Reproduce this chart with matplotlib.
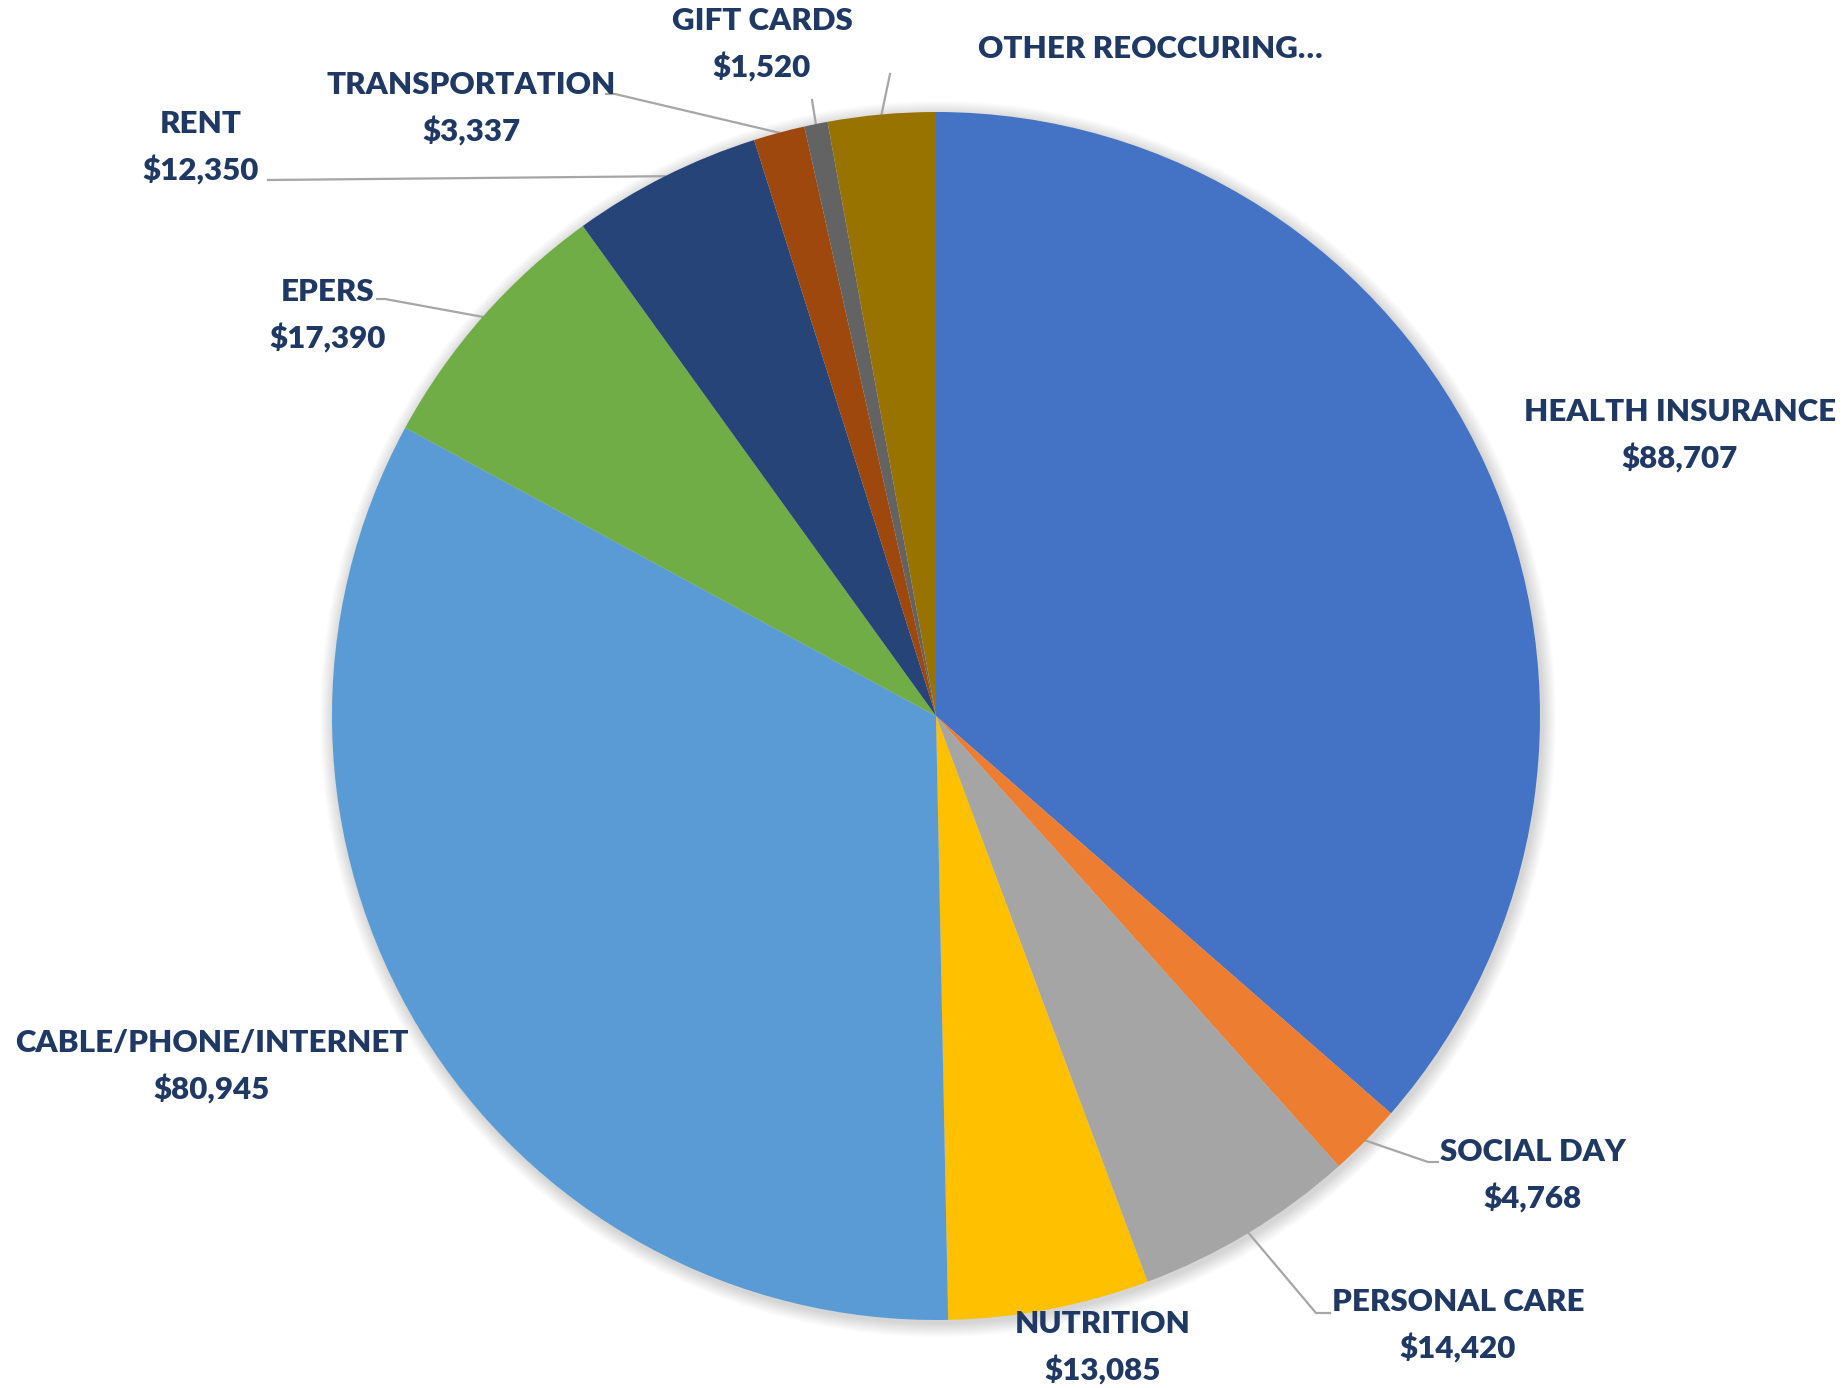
import numpy as np
import matplotlib.pyplot as plt
from matplotlib.patches import Circle

plt.rcParams['font.family'] = ['Lato', 'DejaVu Sans']

# expense categories, clockwise from 12 o'clock
categories = ['HEALTH INSURANCE', 'SOCIAL DAY', 'PERSONAL CARE', 'NUTRITION',
              'CABLE/PHONE/INTERNET', 'EPERS', 'RENT', 'TRANSPORTATION',
              'GIFT CARDS', 'OTHER REOCCURING\u2026']
amounts = [88707, 4768, 14420, 13085, 80945, 17390, 12350, 3337, 1520, 7000]
colors = ['#4472C4', '#ED7D31', '#A5A5A5', '#FFC000', '#5B9BD5',
          '#70AD47', '#264478', '#9E480E', '#636363', '#997300']
show_value = [True] * 9 + [False]

W, H = 1846, 1388
CX, CY, R = 936, H - 716, 604
TEXT = '#203864'
LINE = '#A6A6A6'

# label centres (x, y of first line, image-style y from top)
label_pos = [(1680, 412), (1533, 1152), (1458, 1302), (1103, 1324),
             (212, 1043), (328, 292), (201, 124), (471, 85),
             (762, 21), (1150, 49)]
# leader lines: list of points after the wedge edge, None = no line
leaders = [None,
           [(1428, 1162), (1438, 1162)],
           [(1316, 1313), (1330, 1313)],
           None,
           None,
           [(385, 299), (377, 299)],
           [(268, 180)],
           [(615, 94), (606, 94)],
           [(812, 100)],
           [(890, 74)]]

fig = plt.figure(figsize=(W / 100, H / 100), dpi=100)
ax = fig.add_axes([0, 0, 1, 1])

# soft shadow round the pie
for k in range(14):
    ax.add_patch(Circle((CX + 2, CY - 3), R + 14 - k, color='black',
                        alpha=0.012, lw=0, zorder=0))

wedges, _ = ax.pie(amounts, colors=colors, startangle=90, counterclock=False,
                   radius=R, center=(CX, CY),
                   wedgeprops=dict(linewidth=0))
for w in wedges:
    w.set_zorder(2)

ax.set_xlim(0, W)
ax.set_ylim(0, H)
ax.set_aspect('equal')
ax.axis('off')

font = dict(fontsize=22.5, fontweight='heavy', color=TEXT, zorder=3,
            ha='center', va='center')
for i, w in enumerate(wedges):
    mid = np.deg2rad((w.theta1 + w.theta2) / 2)
    if leaders[i]:
        xs = [CX + R * np.cos(mid)] + [p[0] for p in leaders[i]]
        ys = [CY + R * np.sin(mid)] + [H - p[1] for p in leaders[i]]
        ax.plot(xs, ys, color=LINE, lw=1.6, zorder=1)
    x, y = label_pos[i]
    ax.text(x, H - y, categories[i], **font)
    if show_value[i]:
        ax.text(x, H - y - 46, f'${amounts[i]:,}', **font)

fig.savefig('out.png', dpi=100, facecolor='white')
